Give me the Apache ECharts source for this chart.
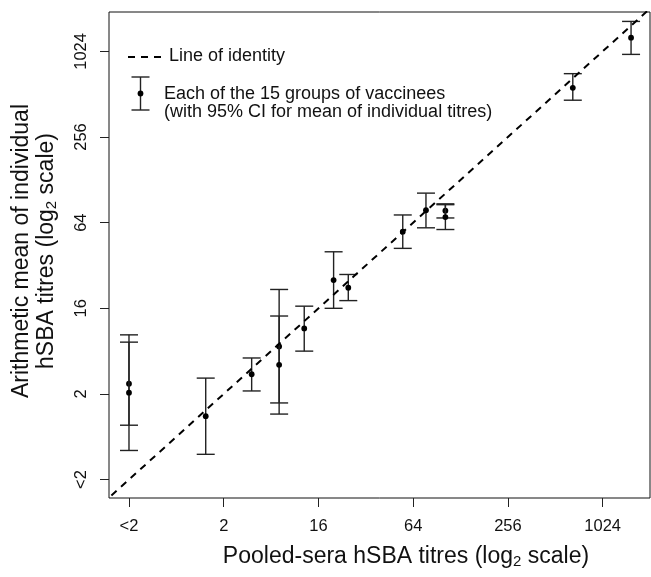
<!DOCTYPE html>
<html><head><meta charset="utf-8">
<script src="https://cdn.jsdelivr.net/npm/echarts@6/dist/echarts.min.js"></script>
<style>html,body{margin:0;padding:0;background:#fff}#c{width:651px;height:577px}</style>
</head><body><div id="c"></div>
<script>
// Axis positions are in log2 units; tick labels as printed on the reference
const tickValues = [0, 2, 4, 6, 8, 10];
const tickLabels = ['<2', '2', '16', '64', '256', '1024'];
// 15 groups of vaccinees (log2-scale positions)
const pooled    = [0, 0, 1.62, 2.59, 3.17, 3.17, 3.70, 4.32, 4.63, 5.78, 6.27, 6.68, 6.68, 9.37, 10.60];
const meanTitre = [2.24, 2.03, 1.48, 2.46, 3.11, 2.68, 3.53, 4.66, 4.48, 5.79, 6.29, 6.28, 6.13, 9.15, 10.32];
const ciLower   = [1.27, 0.68, 0.59, 2.07, 1.79, 1.53, 3.00, 4.00, 4.18, 5.40, 5.88, 6.11, 5.84, 8.86, 9.93];
const ciUpper   = [3.21, 3.38, 2.37, 2.84, 4.44, 3.82, 4.05, 5.32, 4.79, 6.18, 6.69, 6.44, 6.42, 9.48, 10.70];
// line of identity endpoints (y = x)
const identity = [-2, 13];

const FONT = '"Liberation Sans", Arial, Helvetica, sans-serif';
const chart = echarts.init(document.getElementById('c'), null, {renderer: 'canvas'});
const labelOf = v => { const i = tickValues.indexOf(Math.round(v)); return i >= 0 ? tickLabels[i] : ''; };
const tickStyle = {show: true, inside: false, length: 9, lineStyle: {color: '#222', width: 1}, customValues: tickValues};

const option = {
  animation: false,
  grid: {left: 109, top: 12, right: 1, bottom: 79, show: true, borderColor: '#111', borderWidth: 1},
  xAxis: {
    type: 'value', min: -0.422, max: 11.0,
    axisLine: {show: false, onZero: false}, splitLine: {show: false},
    axisTick: tickStyle,
    axisLabel: {customValues: tickValues, formatter: labelOf, margin: 20, fontSize: 16.5, fontFamily: FONT, color: '#111'}
  },
  yAxis: {
    type: 'value', min: -0.43, max: 10.92,
    axisLine: {show: false, onZero: false}, splitLine: {show: false},
    axisTick: tickStyle,
    axisLabel: {customValues: tickValues, formatter: labelOf, rotate: 90, margin: 19, fontSize: 16.5, fontFamily: FONT, color: '#111'}
  },
  series: [
    {
      type: 'line', data: identity.map(v => [v, v]), symbol: 'none', clip: true, silent: true,
      lineStyle: {type: [7, 6], width: 2, color: '#000'}
    },
    {
      type: 'custom', clip: true,
      data: pooled.map((x, i) => [x, meanTitre[i], ciLower[i], ciUpper[i]]),
      encode: {x: 0, y: 1},
      renderItem: (params, api) => {
        const x = api.value(0), m = api.value(1), lo = api.value(2), hi = api.value(3);
        const pLo = api.coord([x, lo]), pHi = api.coord([x, hi]), pM = api.coord([x, m]);
        const w = 9;
        const st = {stroke: '#222', lineWidth: 1.4};
        return {type: 'group', children: [
          {type: 'line', shape: {x1: pLo[0], y1: pLo[1], x2: pHi[0], y2: pHi[1]}, style: st},
          {type: 'line', shape: {x1: pLo[0] - w, y1: pLo[1], x2: pLo[0] + w, y2: pLo[1]}, style: st},
          {type: 'line', shape: {x1: pHi[0] - w, y1: pHi[1], x2: pHi[0] + w, y2: pHi[1]}, style: st},
          {type: 'circle', shape: {cx: pM[0], cy: pM[1], r: 2.9}, style: {fill: '#000'}}
        ]};
      }
    }
  ],
  graphic: [
    // legend: dashed line
    {type: 'line', shape: {x1: 128, y1: 57, x2: 162, y2: 57}, style: {stroke: '#000', lineWidth: 2, lineDash: [7, 6]}},
    {type: 'text', x: 169, y: 56, style: {text: 'Line of identity', font: '18px ' + FONT, fill: '#111', verticalAlign: 'middle'}},
    // legend: error bar glyph
    {type: 'line', shape: {x1: 140.5, y1: 77, x2: 140.5, y2: 110}, style: {stroke: '#222', lineWidth: 1.4}},
    {type: 'line', shape: {x1: 131.5, y1: 77, x2: 149.5, y2: 77}, style: {stroke: '#222', lineWidth: 1.4}},
    {type: 'line', shape: {x1: 131.5, y1: 110, x2: 149.5, y2: 110}, style: {stroke: '#222', lineWidth: 1.4}},
    {type: 'circle', shape: {cx: 140.5, cy: 93.5, r: 2.9}, style: {fill: '#000'}},
    {type: 'text', x: 164, y: 94, style: {text: 'Each of the 15 groups of vaccinees', font: '18px ' + FONT, fill: '#111', verticalAlign: 'middle'}},
    {type: 'text', x: 164, y: 112, style: {text: '(with 95% CI for mean of individual titres)', font: '18px ' + FONT, fill: '#111', verticalAlign: 'middle'}},
    // x axis title
    {type: 'text', x: 406, y: 557, style: {
      text: 'Pooled-sera hSBA titres (log{s|2} scale)', font: '23px ' + FONT, fill: '#111',
      align: 'center', verticalAlign: 'middle',
      rich: {s: {fontSize: 15, fontFamily: FONT, fill: '#111', padding: [10, 0, 0, 0]}}
    }},
    // y axis title (two lines, rotated)
    {type: 'text', x: 22, y: 251, rotation: Math.PI / 2, style: {
      text: 'Arithmetic mean of individual', font: '23px ' + FONT, fill: '#111', align: 'center', verticalAlign: 'middle'
    }},
    {type: 'text', x: 47, y: 251, rotation: Math.PI / 2, style: {
      text: 'hSBA titres (log{s|2} scale)', font: '23px ' + FONT, fill: '#111',
      align: 'center', verticalAlign: 'middle',
      rich: {s: {fontSize: 15, fontFamily: FONT, fill: '#111', padding: [10, 0, 0, 0]}}
    }}
  ]
};
chart.setOption(option);
</script>
</body></html>
